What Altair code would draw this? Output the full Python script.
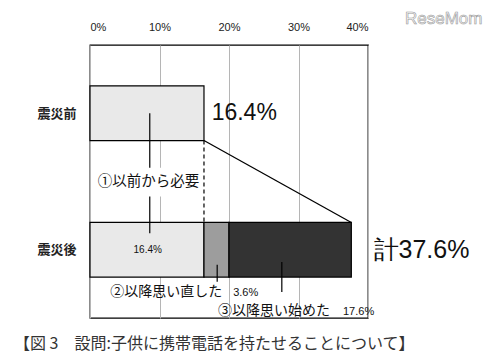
import altair as alt
import pandas as pd

# --- data ---
categories = ["震災前", "震災後"]
rows = [0, 1]
seg_names = ["①以前から必要", "②以降思い直した", "③以降思い始めた"]
before_values = [16.4]
after_values = [16.4, 3.6, 17.6]
seg_colors = ["#e9e9e9", "#9d9d9d", "#333333"]
x_ticks = [0, 10, 20, 30, 40]
total_before = "16.4%"
total_after = "計37.6%"
caption = "【図 3　設問:子供に携帯電話を持たせることについて】"

FONT = "Noto Sans CJK JP"
NUMFONT = "Liberation Sans"
HALF = 0.2

# bars table
recs = []
recs.append(dict(row=0, x0=0, x1=before_values[0], seg=seg_names[0]))
start = 0
for name, v in zip(seg_names, after_values):
    recs.append(dict(row=1, x0=start, x1=start + v, seg=name))
    start += v
bars_df = pd.DataFrame(recs)
bars_df["y0"] = bars_df["row"] - HALF
bars_df["y1"] = bars_df["row"] + HALF

xs = alt.Scale(domain=[0, 40], nice=False, zero=False)
ys = alt.Scale(domain=[-0.5, 1.5], reverse=True, nice=False, zero=False)

base = alt.Chart(bars_df)

bars = base.mark_rect(stroke="black", strokeWidth=1.2).encode(
    x=alt.X("x0:Q", scale=xs, axis=alt.Axis(
        orient="top", values=x_ticks, labelExpr="datum.value + '%'",
        grid=True, gridColor="#b5b5b5", gridWidth=1, ticks=False, domain=False,
        labelFont=NUMFONT, labelFontSize=11, labelColor="#222", labelPadding=13, title=None)),
    x2="x1:Q",
    y=alt.Y("y0:Q", scale=ys, axis=alt.Axis(
        values=rows, labelExpr="datum.value == 0 ? '震災前' : (datum.value == 1 ? '震災後' : '')",
        grid=False, ticks=False, domain=False, labelFont=FONT, labelFontSize=13,
        labelFontWeight="bold", labelColor="#222", labelPadding=14, title=None)),
    y2="y1:Q",
    color=alt.Color("seg:N", scale=alt.Scale(domain=seg_names, range=seg_colors), legend=None),
)

# connector lines
b_end = before_values[0]
a_end = sum(after_values)
dash_df = pd.DataFrame([dict(x=b_end, y=0 + HALF, x2=b_end, y2=1 - HALF)])
dashed = alt.Chart(dash_df).mark_rule(color="black", strokeDash=[4, 3], strokeWidth=1.2).encode(
    x=alt.X("x:Q", scale=xs), y=alt.Y("y:Q", scale=ys), y2="y2:Q")
diag_df = pd.DataFrame([dict(x=b_end, y=0 + HALF, x2=a_end, y2=1 - HALF)])
diag = alt.Chart(diag_df).mark_rule(color="black", strokeWidth=1.3).encode(
    x=alt.X("x:Q", scale=xs), y=alt.Y("y:Q", scale=ys), x2="x2:Q", y2="y2:Q")

# leader lines
leader_df = pd.DataFrame([
    dict(x=8.6, y=0.0, y2=0.88),
    dict(x=18.3, y=1.11, y2=1.235),
    dict(x=27.6, y=1.09, y2=1.31),
])
leaders = alt.Chart(leader_df).mark_rule(color="black", strokeWidth=1.2).encode(
    x=alt.X("x:Q", scale=xs), y=alt.Y("y:Q", scale=ys), y2="y2:Q")

# white box behind label ①
box_df = pd.DataFrame([dict(x=1.0, x2=15.9, y=0.40, y2=0.61)])
box = alt.Chart(box_df).mark_rect(color="white").encode(
    x=alt.X("x:Q", scale=xs), x2="x2:Q", y=alt.Y("y:Q", scale=ys), y2="y2:Q")

def txt(df, size, align="left", weight="normal", color="#111", font=FONT):
    return alt.Chart(df).mark_text(font=font, fontSize=size, align=align, baseline="middle",
                                   fontWeight=weight, color=color).encode(
        x=alt.X("x:Q", scale=xs), y=alt.Y("y:Q", scale=ys), text="t:N")

t_big1 = txt(pd.DataFrame([dict(x=b_end + 1.1, y=0, t=total_before)]), 23, font=NUMFONT)
t_big2 = txt(pd.DataFrame([dict(x=40.8, y=1, t=total_after)]), 25, font=NUMFONT)
t_lab1 = txt(pd.DataFrame([dict(x=8.4, y=0.505, t=seg_names[0])]), 14.5, align="center")
t_in = txt(pd.DataFrame([dict(x=8.3, y=1.0, t=f"{after_values[0]}%")]), 10, align="center", font=NUMFONT)
t_lab2 = txt(pd.DataFrame([dict(x=2.9, y=1.31, t=seg_names[1])]), 14)
t_v2 = txt(pd.DataFrame([dict(x=20.6, y=1.315, t=f"{after_values[1]}%")]), 11, font=NUMFONT)
t_lab3 = txt(pd.DataFrame([dict(x=18.4, y=1.45, t=seg_names[2])]), 14)
t_v3 = txt(pd.DataFrame([dict(x=36.4, y=1.455, t=f"{after_values[2]}%")]), 11, font=NUMFONT)

cap = alt.Chart(pd.DataFrame([dict(t=caption)])).mark_text(
    font=FONT, fontSize=16, align="left", baseline="middle", color="#333").encode(
    x=alt.value(-76), y=alt.value(299), text="t:N")
wm = alt.Chart(pd.DataFrame([dict(t="ReseMom")])).mark_text(
    font="Liberation Sans", fontSize=17, align="left", baseline="middle",
    color="#fafafa", stroke="#999999", strokeWidth=0.6).encode(
    x=alt.value(315), y=alt.value(-26), text="t:N")

chart = alt.layer(bars, dashed, diag, leaders, box, t_big1, t_big2, t_lab1, t_in,
                  t_lab2, t_v2, t_lab3, t_v3, cap, wm).properties(
    width=278, height=273,
    autosize=alt.AutoSizeParams(type="none"),
    padding={"left": 82, "top": 37, "right": 116, "bottom": 38},
    background="white",
).configure_view(stroke="black", strokeWidth=1.3)

chart.save("out.html", embed_options={"renderer": "svg", "actions": False})
